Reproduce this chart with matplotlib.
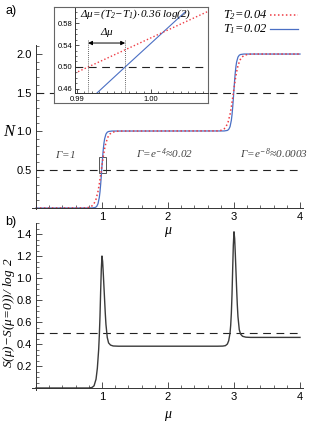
import matplotlib.pyplot as plt
from matplotlib.patches import Rectangle
from matplotlib.ticker import MultipleLocator

plt.rcParams['mathtext.fontset'] = 'custom'
plt.rcParams['mathtext.rm'] = 'Liberation Serif:italic'
plt.rcParams['mathtext.it'] = 'Liberation Serif:italic'
plt.rcParams['font.family'] = ['Liberation Sans', 'DejaVu Sans']

# N(mu) for T1 = 0.02 (blue) and T2 = 0.04 (red)
mu_t1 = [0.0, 0.85, 0.90, 0.92, 0.94, 0.96, 0.97, 0.98, 0.99, 1.00, 1.01, 1.02, 1.03,
         1.04, 1.06, 1.08, 1.10, 1.15,
         2.85, 2.90, 2.92, 2.94, 2.96, 2.97, 2.98, 2.99, 3.00, 3.01, 3.02, 3.03,
         3.04, 3.06, 3.08, 3.10, 3.15, 4.0]
n_t1 = [0.0, 0.001, 0.008, 0.021, 0.056, 0.139, 0.210, 0.305, 0.419, 0.544, 0.663, 0.764, 0.842,
        0.898, 0.960, 0.985, 0.994, 1.0,
        1.001, 1.008, 1.021, 1.056, 1.139, 1.210, 1.305, 1.419, 1.544, 1.663, 1.764, 1.842,
        1.898, 1.960, 1.985, 1.994, 2.0, 2.0]
mu_t2 = [0.0, 0.75, 0.80, 0.85, 0.88, 0.91, 0.94, 0.96, 0.98, 1.00, 1.02, 1.04, 1.06,
         1.09, 1.12, 1.16, 1.22, 1.30,
         2.75, 2.80, 2.85, 2.88, 2.91, 2.94, 2.96, 2.98, 3.00, 3.02, 3.04, 3.06,
         3.09, 3.12, 3.16, 3.22, 3.30, 4.0]
n_t2 = [0.0, 0.002, 0.008, 0.028, 0.058, 0.115, 0.216, 0.313, 0.429, 0.553, 0.671, 0.771, 0.847,
        0.921, 0.961, 0.985, 0.997, 1.0,
        1.002, 1.008, 1.028, 1.058, 1.115, 1.216, 1.313, 1.429, 1.553, 1.671, 1.771, 1.847,
        1.921, 1.961, 1.985, 1.997, 2.0, 2.0]

# zoomed-in (inset) segments near mu = 1, N = 0.5
mu_in_t1 = [0.9927, 0.9965, 1.0046]
n_in_t1 = [0.4527, 0.500, 0.600]
mu_in_t2 = [0.9897, 0.9915, 1.0080]
n_in_t2 = [0.4887, 0.500, 0.603]
dmu_left, dmu_right = 0.9915, 0.9965

# entropy (S(mu) - S(mu=0)) / log 2
mu_s = [0.0, 0.80, 0.85, 0.88, 0.91, 0.93, 0.95, 0.96, 0.97, 0.98, 0.99, 1.00, 1.01, 1.02,
        1.03, 1.04, 1.05, 1.06, 1.08, 1.10, 1.13, 1.17, 1.25,
        2.75, 2.83, 2.87, 2.90, 2.92, 2.94, 2.95, 2.96, 2.97, 2.98, 2.99, 3.00, 3.01, 3.02,
        3.03, 3.04, 3.05, 3.06, 3.08, 3.10, 3.13, 3.18, 3.25, 4.0]
s_vals = [0.0, 0.0, 0.005, 0.02, 0.08, 0.18, 0.35, 0.48, 0.65, 0.88, 1.08, 1.20, 1.15, 1.04,
          0.92, 0.80, 0.68, 0.58, 0.46, 0.41, 0.39, 0.382, 0.38,
          0.38, 0.381, 0.385, 0.40, 0.43, 0.50, 0.57, 0.68, 0.85, 1.08, 1.30, 1.42, 1.36, 1.22,
          1.06, 0.90, 0.76, 0.65, 0.53, 0.49, 0.47, 0.462, 0.46, 0.46]

gamma_labels = [r'$\Gamma\!=\!1$', r'$\Gamma\!=\!e^{-4}\!\approx\!0.02$', r'$\Gamma\!=\!e^{-8}\!\approx\!0.0003$']
gamma_pos = [0.45, 1.95, 3.6]

x_ticks = [1, 2, 3, 4]
x_ticklabels = ['1', '2', '3', '4']

BLUE = '#4a6fc4'
RED = '#ee3b44'
GRAY = '#333333'
W, H = 314, 424


def fx(px):
    return px / W


def fy(py):
    return 1 - py / H


def mathematica_axes(ax, xmaj, xmin, ymaj, ymin, size=8):
    ax.patch.set_alpha(0)
    for s in ['top', 'right']:
        ax.spines[s].set_visible(False)
    ax.spines['left'].set_position(('data', 0))
    ax.spines['bottom'].set_position(('data', 0))
    for s in ['left', 'bottom']:
        ax.spines[s].set_linewidth(0.7)
        ax.spines[s].set_color(GRAY)
    ax.xaxis.set_major_locator(MultipleLocator(xmaj))
    ax.xaxis.set_minor_locator(MultipleLocator(xmin))
    ax.yaxis.set_major_locator(MultipleLocator(ymaj))
    ax.yaxis.set_minor_locator(MultipleLocator(ymin))
    ax.tick_params(which='major', direction='in', length=4, width=0.6, color=GRAY,
                   labelsize=size, pad=3)
    ax.tick_params(which='minor', direction='in', length=2, width=0.5, color=GRAY)


fig = plt.figure(figsize=(W / 100, H / 100), dpi=100)

# ---- panel a ----
ax1 = fig.add_axes([fx(32), fy(209.2), fx(303.3) - fx(32), fy(44.8) - fy(209.2)])
ax1.set_xlim(-0.06, 4.05)
ax1.set_ylim(-0.015, 2.12)
mathematica_axes(ax1, 1, 0.2, 0.5, 0.1)
ax1.set_xticks(x_ticks)
ax1.set_xticklabels(x_ticklabels)
ax1.set_yticks([0.5, 1.0, 1.5, 2.0])
ax1.set_yticklabels(['0.5', '1.0', '1.5', '2.0'])
for lev in [0.5, 1.5]:
    ax1.plot([0, 4.05], [lev, lev], color='#222222', lw=0.8, ls=(0, (7, 5)))
ax1.plot(mu_t1, n_t1, color=BLUE, lw=0.9)
ax1.plot(mu_t2, n_t2, color=RED, lw=1.1, ls=(0, (1, 1.6)))
ax1.add_patch(Rectangle((0.955, 0.455), 0.105, 0.205, fill=False, ec='#555555', lw=0.7))
for lab, x in zip(gamma_labels, gamma_pos):
    ax1.text(x, 0.70, lab, fontsize=8, color='#444444', ha='center', va='center')

# ---- panel b ----
ax2 = fig.add_axes([fx(32), fy(389.65), fx(303.3) - fx(32), fy(223) - fy(389.65)])
ax2.set_xlim(-0.06, 4.05)
ax2.set_ylim(-0.015, 1.5)
mathematica_axes(ax2, 1, 0.2, 0.2, 0.05)
ax2.set_xticks(x_ticks)
ax2.set_xticklabels(x_ticklabels)
ax2.set_yticks([0.2, 0.4, 0.6, 0.8, 1.0, 1.2, 1.4])
ax2.set_yticklabels(['0.2', '0.4', '0.6', '0.8', '1.0', '1.2', '1.4'])
ax2.plot([0, 4.05], [0.5, 0.5], color='#222222', lw=0.8, ls=(0, (7, 5)))
ax2.plot(mu_s, s_vals, color='#3a3a3a', lw=1.0)

# ---- figure-level texts ----
fig.text(fx(168), fy(232), r'$\mu$', fontsize=10, ha='center', va='center')
fig.text(fx(168), fy(416), r'$\mu$', fontsize=10, ha='center', va='center')
fig.text(fx(5), fy(11), 'a)', fontsize=9, va='center')
fig.text(fx(5), fy(222), 'b)', fontsize=9, va='center')
fig.text(fx(3), fy(131), r'$N$', fontsize=12, va='center')
fig.text(fx(9), fy(312), r'$S(\mu)\!-\!S(\mu\!=\!0))/\ \log\ 2$', fontsize=9.5,
         rotation=90, ha='center', va='center')

# legend drawn by hand
fig.text(fx(223), fy(15), r'$T_2\!=\!0.04$', fontsize=9, va='center')
fig.text(fx(223), fy(29), r'$T_1\!=\!0.02$', fontsize=9, va='center')
fig.add_artist(plt.Line2D([fx(270), fx(298)], [fy(15), fy(15)], color=RED, lw=1.1,
                          ls=(0, (1, 1.6))))
fig.add_artist(plt.Line2D([fx(270), fx(298)], [fy(29), fy(29)], color=BLUE, lw=0.9))

# ---- inset ----
frame = fig.add_axes([fx(54), fy(103), fx(208) - fx(54), fy(7) - fy(103)])
frame.set_xticks([])
frame.set_yticks([])
for s in frame.spines.values():
    s.set_color('#666666')
    s.set_linewidth(0.8)

axi = fig.add_axes([fx(75), fy(93), fx(208) - fx(75), fy(8) - fy(93)])
axi.patch.set_alpha(0)
axi.set_xlim(0.98973, 1.0077)
axi.set_ylim(0.4527, 0.6073)
for s in ['top', 'right']:
    axi.spines[s].set_visible(False)
for s in ['left', 'bottom']:
    axi.spines[s].set_linewidth(0.7)
    axi.spines[s].set_color(GRAY)
axi.set_xticks([0.99, 1.00])
axi.set_xticklabels(['0.99', '1.00'])
axi.xaxis.set_minor_locator(MultipleLocator(0.001))
axi.set_yticks([0.46, 0.50, 0.54, 0.58])
axi.set_yticklabels(['0.46', '0.50', '0.54', '0.58'])
axi.yaxis.set_minor_locator(MultipleLocator(0.01))
axi.tick_params(which='major', direction='in', length=3, width=0.6, color=GRAY,
                labelsize=5.5, pad=2)
axi.tick_params(which='minor', direction='in', length=1.5, width=0.5, color=GRAY)
axi.plot([0.98973, 1.0077], [0.5, 0.5], color='#222222', lw=0.8, ls=(0, (7, 5)))
axi.plot(mu_in_t1, n_in_t1, color=BLUE, lw=0.8)
axi.plot(mu_in_t2, n_in_t2, color=RED, lw=1.0, ls=(0, (1, 1.6)))
for xv in [dmu_left, dmu_right]:
    axi.plot([xv, xv], [0.4527, 0.549], color='#333333', lw=0.6, ls=(0, (1, 1.5)))
axi.annotate('', xy=(dmu_left, 0.5436), xytext=(dmu_right, 0.5436),
             arrowprops=dict(arrowstyle='<|-|>', color='black', lw=0.7,
                             mutation_scale=6, shrinkA=0, shrinkB=0))
axi.text((dmu_left + dmu_right) / 2, 0.5635, r'$\Delta\mu$', fontsize=8, ha='center',
         va='center')
axi.text(0.9904, 0.5955, r'$\Delta\mu\!=\!(T_2\!-\!T_1)\!\cdot\!0.36\ \log(2)$', fontsize=8,
         ha='left', va='center')

fig.savefig('out.png', dpi=100)
